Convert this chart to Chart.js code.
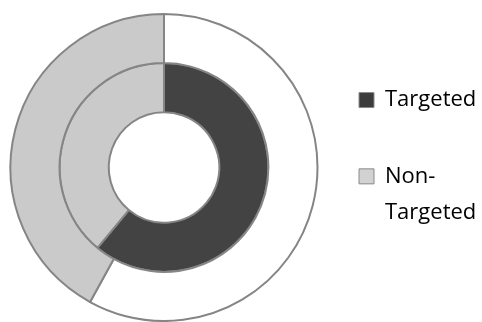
<!DOCTYPE html>
<html>
<head>
<meta charset="utf-8">
<script src="https://cdn.jsdelivr.net/npm/chart.js@4"></script>
<style>
  html, body { margin: 0; padding: 0; background: #fff; }
  #wrap { width: 482px; height: 322px; }
</style>
</head>
<body>
<div id="wrap"><canvas id="ringChart"></canvas></div>
<script>
// Categorias y valores (anillo exterior e interior)
const categories = [['Targeted'], ['Non-', 'Targeted']];
const outerValues = [58, 42];
const innerValues = [61, 39];

const outerColors = ['#ffffff', '#cacaca'];
const innerColors = ['#434343', '#cacaca'];
const legendColors = ['#3c3c3c', '#d2d2d2'];

// Ajusta ancho y posicion de la leyenda
const legendPlace = {
  id: 'legendPlace',
  beforeInit(chart) {
    const fit = chart.legend.fit;
    chart.legend.fit = function () {
      fit.call(this);
      this.width = 163;
    };
  },
  afterLayout(chart) {
    chart.legend.top -= 4;
    chart.legend.bottom -= 4;
  }
};

const ctx = document.getElementById('ringChart').getContext('2d');
const chart = new Chart(ctx, {
  type: 'doughnut',
  data: {
    labels: categories,
    datasets: [{
      data: outerValues,
      backgroundColor: outerColors,
      borderColor: '#858585',
      borderWidth: 2
    }, {
      data: innerValues,
      backgroundColor: innerColors,
      borderColor: '#858585',
      borderWidth: 2
    }]
  },
  options: {
    responsive: true,
    maintainAspectRatio: false,
    animation: false,
    cutout: '36%',
    layout: {
      padding: { left: 9, top: 13, right: 0, bottom: 0 }
    },
    plugins: {
      legend: {
        position: 'right',
        labels: {
          padding: 40,
          boxWidth: 15,
          boxHeight: 15,
          color: '#000',
          font: { family: 'Open Sans', size: 22, lineHeight: 1.65 },
          generateLabels(chart) {
            // la leyenda usa los colores del anillo interior
            return categories.map((c, i) => ({
              text: c,
              fillStyle: legendColors[i],
              strokeStyle: '#8a8a8a',
              lineWidth: 1,
              index: i
            }));
          }
        }
      },
      tooltip: { enabled: false }
    }
  },
  plugins: [legendPlace]
});
</script>
</body>
</html>
